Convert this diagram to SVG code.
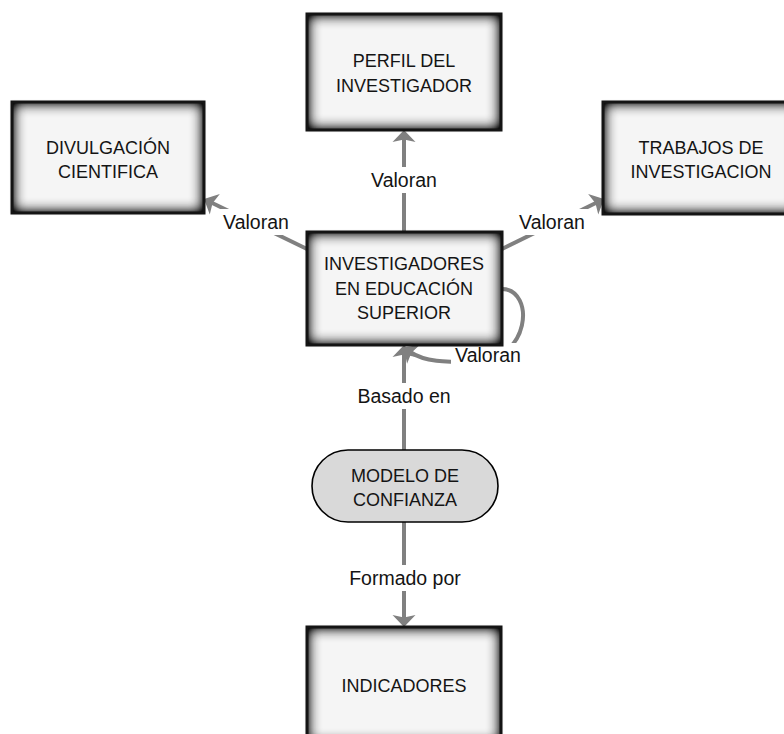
<svg xmlns="http://www.w3.org/2000/svg" width="784" height="734" viewBox="0 0 784 734">
  <defs>
    <style>
      .fillbox { fill: #f5f5f5; }
      .frame { fill: none; stroke: #141414; stroke-width: 3; }
      .pill { fill: #d9d9d9; stroke: #000; stroke-width: 1.6; }
      .t { font-family: "Liberation Sans", Arial, sans-serif; font-size: 18px; fill: #141414; text-anchor: middle; }
      .lbl { font-family: "Liberation Sans", Arial, sans-serif; font-size: 19.5px; fill: #141414; text-anchor: middle; }
      .bg { fill: #ffffff; }
      .edge { fill: none; stroke: #808080; stroke-width: 4; marker-end: url(#arrow); }
    </style>
    <!-- shading that darkens the inside of each box towards its border -->
    <filter id="innerGlow" x="-20%" y="-20%" width="140%" height="140%" color-interpolation-filters="sRGB">
      <feFlood flood-color="#000000" flood-opacity="1" result="f"/>
      <feComposite in="f" in2="SourceAlpha" operator="out" result="frame"/>
      <feGaussianBlur in="frame" stdDeviation="7" result="fb"/>
      <feComponentTransfer in="fb" result="fbs">
        <feFuncA type="linear" slope="1.5"/>
      </feComponentTransfer>
      <feComposite in="fbs" in2="SourceAlpha" operator="in" result="inner"/>
      <feGaussianBlur in="SourceAlpha" stdDeviation="1.5" result="ob"/>
      <feComponentTransfer in="ob" result="outer">
        <feFuncA type="linear" slope="0.35"/>
      </feComponentTransfer>
      <feMerge>
        <feMergeNode in="outer"/>
        <feMergeNode in="SourceGraphic"/>
        <feMergeNode in="inner"/>
      </feMerge>
    </filter>
    <marker id="arrow" markerUnits="userSpaceOnUse" markerWidth="14" markerHeight="26" viewBox="-5 -13 14 26" refX="0" refY="0" orient="auto">
      <path d="M8,0 L-4,-11.5 L-1.5,0 L-4,11.5 Z" fill="#808080"/>
    </marker>
  </defs>

  <!-- connectors -->
  <g id="connectors">
    <path class="edge" d="M404,232 L404,138"/>
    <path class="edge" d="M307,249 L211.2,202.5"/>
    <path class="edge" d="M502,249 L596.8,202.5"/>
    <path class="edge" d="M502,289 C535,289 532,362 472,362 C445,362 425,362 410.2,352"/>
    <path class="edge" d="M404,450 L404,353"/>
    <path class="edge" d="M404,522 L404,619"/>

    <rect class="bg" x="366" y="167" width="76" height="26"/>
    <text class="lbl" x="404" y="187">Valoran</text>
    <rect class="bg" x="219" y="209" width="74" height="26"/>
    <text class="lbl" x="256" y="229">Valoran</text>
    <rect class="bg" x="515" y="209" width="74" height="26"/>
    <text class="lbl" x="552" y="229">Valoran</text>
    <rect class="bg" x="451" y="343" width="74" height="26"/>
    <text class="lbl" x="488" y="362">Valoran</text>
    <rect class="bg" x="354" y="383" width="100" height="26"/>
    <text class="lbl" x="404" y="403">Basado en</text>
    <rect class="bg" x="345" y="565" width="120" height="26"/>
    <text class="lbl" x="405" y="585">Formado por</text>
  </g>

  <g id="perfil">
    <rect class="fillbox" x="307" y="14" width="194" height="116" filter="url(#innerGlow)"/>
    <rect class="frame" x="307" y="14" width="194" height="116"/>
    <text class="t" x="404" y="67">PERFIL DEL</text>
    <text class="t" x="404" y="92">INVESTIGADOR</text>
  </g>

  <g id="divulgacion">
    <rect class="fillbox" x="12" y="102" width="192" height="111" filter="url(#innerGlow)"/>
    <rect class="frame" x="12" y="102" width="192" height="111"/>
    <text class="t" x="108" y="154">DIVULGACIÓN</text>
    <text class="t" x="108" y="178">CIENTIFICA</text>
  </g>

  <g id="trabajos">
    <rect class="fillbox" x="603" y="102" width="196" height="112" filter="url(#innerGlow)"/>
    <rect class="frame" x="603" y="102" width="196" height="112"/>
    <text class="t" x="701" y="154">TRABAJOS DE</text>
    <text class="t" x="701" y="178">INVESTIGACION</text>
  </g>

  <g id="investigadores">
    <rect class="fillbox" x="307" y="232" width="195" height="113" filter="url(#innerGlow)"/>
    <rect class="frame" x="307" y="232" width="195" height="113"/>
    <text class="t" x="404" y="270">INVESTIGADORES</text>
    <text class="t" x="404" y="295">EN EDUCACIÓN</text>
    <text class="t" x="404" y="319">SUPERIOR</text>
  </g>

  <g id="modelo">
    <rect class="pill" x="312" y="450" width="186" height="72" rx="36" ry="36"/>
    <text class="t" x="405" y="482">MODELO DE</text>
    <text class="t" x="405" y="506">CONFIANZA</text>
  </g>

  <g id="indicadores">
    <rect class="fillbox" x="307" y="627" width="194" height="117" filter="url(#innerGlow)"/>
    <rect class="frame" x="307" y="627" width="194" height="117"/>
    <text class="t" x="404" y="692">INDICADORES</text>
  </g>
</svg>
